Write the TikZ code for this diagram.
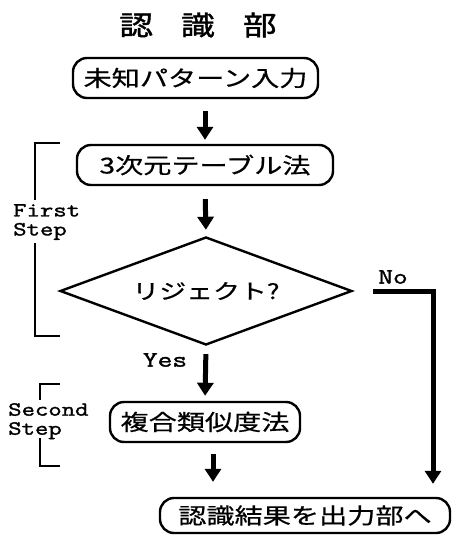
\documentclass[tikz,border=0pt]{standalone}
\usepackage{fontspec}
\newfontfamily\jp[FakeStretch=1.28,FakeBold=0.6]{Noto Sans CJK JP}
\newfontfamily\jptitle[FakeStretch=1.25,FakeBold=1.4]{Noto Sans CJK JP}
\newfontfamily\mono[FakeStretch=1.3,FakeBold=1.6]{Latin Modern Mono}
\usetikzlibrary{arrows.meta,shapes.geometric}
\begin{document}
\begin{tikzpicture}[x=1pt,y=-1pt,
  box/.style={draw, line width=2.4pt, rounded corners=14pt, minimum height=40pt, inner sep=0pt,
    font=\jp\fontsize{22}{22}\selectfont},
  bigarrow/.style={line width=5pt, -{Triangle[width=16pt,length=13pt]}},
  lbl/.style={font=\mono\fontsize{20}{19}\selectfont, inner sep=0pt, align=left},
  biglbl/.style={font=\mono\fontsize{22}{22}\selectfont, inner sep=0pt},
  bracket/.style={line width=2.5pt}]
\useasboundingbox (0,0) rectangle (452,535);

\node (title) at (198,25) {\jptitle\fontsize{27}{27}\selectfont 認\hspace{28pt}識\hspace{28pt}部};

\node[box, minimum width=245pt] (b1) at (195.5,78) {未知パターン入力};
\node[box, minimum width=256pt] (b2) at (205,165) {3次元テーブル法};
\node[draw, diamond, line width=2.4pt, shape aspect=2.7, minimum width=292pt, minimum height=108pt,
  inner sep=0pt, font=\jp\fontsize{21}{21}\selectfont] (dia) at (206,291) {リジェクト?};
\node[box, minimum width=190pt] (b3) at (205,422) {複合類似度法};
\node[box, minimum width=290pt, minimum height=35pt] (b4) at (305,515.5) {認識結果を出力部へ};

\draw[bigarrow, shorten <=12pt, shorten >=4pt] (b2.north |- b1.south) -- (b2.north);
\draw[bigarrow, shorten <=13pt, shorten >=6pt] (b2.south) -- (dia.north);
\draw[bigarrow, shorten <=8pt, shorten >=5pt] (dia.south) -- (b3.north);
\draw[bigarrow, shorten <=11pt, shorten >=15pt] ([xshift=8pt]b3.south) -- ([xshift=8pt]b3.south |- b4.north);

\coordinate (nocorner) at (433,291);
\draw[bigarrow, shorten >=13pt] ([xshift=20pt]dia.east) -- (nocorner) -- (nocorner |- b4.north);

\node[biglbl] (no) at (393,277) {No};
\node[biglbl] (yes) at (165,360) {Yes};

\node[lbl, anchor=north west] (fs) at (13,204) {First\\Step};
\node[lbl, anchor=north west] (ss) at (8,403) {Second\\Step};

\draw[bracket] (60,143) -- (35,143) -- (35,200);
\draw[bracket] (35,243) -- (35,336) -- (60,336);
\draw[bracket] (60,384) -- (40,384) -- (40,400);
\draw[bracket] (40,438) -- (40,466) -- (60,466);
\end{tikzpicture}
\end{document}
